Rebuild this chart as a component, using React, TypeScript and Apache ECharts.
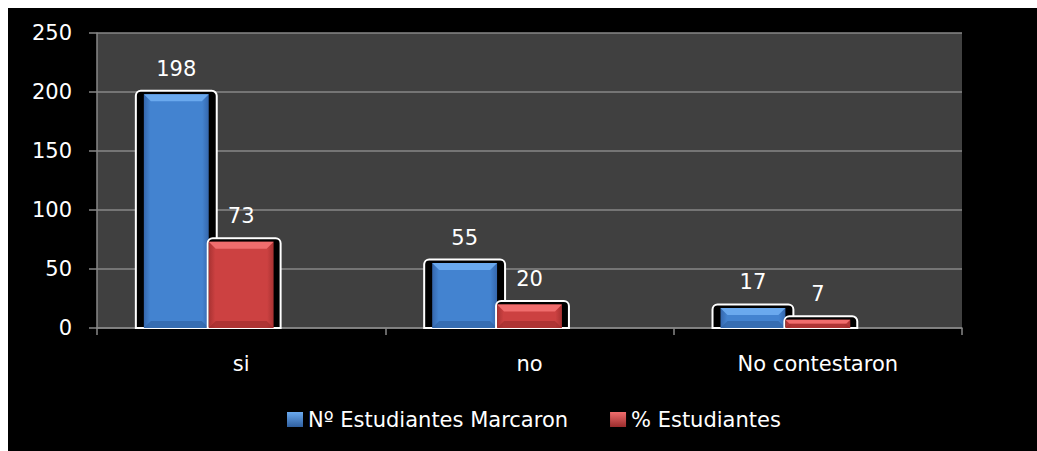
import React, { useEffect, useRef } from "react";
import * as echarts from "echarts";

const categories = ["si", "no", "No contestaron"];
const seriesNames = ["Nº Estudiantes Marcaron", "% Estudiantes"];
const marcaron = [198, 55, 17];
const porcentaje = [73, 20, 7];
const yTicks = { min: 0, max: 250, interval: 50 };

const FONT = '"DejaVu Sans", sans-serif';
const FS = 21;
const GRIDC = "#878787";

const palettes = [
  { edge: "#3567ad", body: "#4383d0", light: "#6aa9ee", dark: "#2f5f9f", fl: 8, fr: 8 },
  { edge: "#a83232", body: "#cc4141", light: "#f06d6d", dark: "#9a2c2c", fl: 1, fr: 7 },
];

function makeRender(sIdx: number) {
  const p = palettes[sIdx];
  return (params: any, api: any) => {
    const ci = api.value(0);
    const v = api.value(1);
    const top = api.coord([ci, v]);
    const base = api.coord([ci, 0]);
    const catW = api.size([1, 0])[0];
    const bw = catW * 0.225;
    const x0 = top[0] + (sIdx - 1.5) * bw;
    const x1 = x0 + bw;
    const yT = top[1];
    const yB = base[1];
    const h = yB - yT;
    const b = Math.min(7, h / 2);
    return {
      type: "group",
      children: [
        {
          type: "rect",
          shape: { x: x0 - p.fl, y: yT - 3.5, width: bw + p.fl + p.fr, height: h + 3.5, r: [5, 5, 0, 0] },
          style: { fill: "#000", stroke: "#fff", lineWidth: 2 },
        },
        {
          type: "rect",
          shape: { x: x0, y: yT, width: bw, height: h },
          style: {
            fill: new echarts.graphic.LinearGradient(0, 0, 1, 0, [
              { offset: 0, color: p.edge },
              { offset: 0.1, color: p.body },
              { offset: 0.9, color: p.body },
              { offset: 1, color: p.edge },
            ]),
          },
        },
        {
          type: "polygon",
          shape: { points: [[x0, yT], [x1, yT], [x1 - b, yT + b], [x0 + b, yT + b]] },
          style: { fill: p.light },
        },
        {
          type: "polygon",
          shape: { points: [[x0, yB], [x1, yB], [x1 - b, yB - b], [x0 + b, yB - b]] },
          style: { fill: p.dark, opacity: 0.6 },
        },
        {
          type: "text",
          x: (x0 + x1) / 2,
          y: yT - 15,
          style: {
            text: String(v),
            fill: "#fff",
            font: `${FS}px ${FONT}`,
            align: "center",
            verticalAlign: "bottom",
            textAlign: "center",
            textVerticalAlign: "bottom",
          },
        },
      ],
    };
  };
}

export default function App() {
  const ref = useRef<HTMLDivElement>(null);
  useEffect(() => {
    if (!ref.current) return;
    const chart = echarts.init(ref.current, undefined, { renderer: "svg" });
    const seriesData = [marcaron, porcentaje];
    chart.setOption({
      animation: false,
      backgroundColor: "#000",
      textStyle: { fontFamily: FONT },
      grid: {
        left: 89,
        right: 75,
        top: 25,
        bottom: 123,
        show: true,
        backgroundColor: "#404040",
        borderWidth: 0,
      },
      legend: {
        left: 274,
        top: 396,
        itemWidth: 16,
        itemHeight: 15,
        itemGap: 42,
        icon: "rect",
        textStyle: { color: "#fff", fontSize: FS, fontFamily: FONT },
        data: seriesNames.map((n, i) => ({
          name: n,
          itemStyle: {
            color: new echarts.graphic.LinearGradient(0, 0, 0, 1, [
              { offset: 0, color: palettes[i].light },
              { offset: 1, color: palettes[i].dark },
            ]),
          },
        })),
      },
      xAxis: {
        type: "category",
        data: categories,
        boundaryGap: true,
        axisLine: { show: true, lineStyle: { color: GRIDC, width: 1.5 } },
        axisTick: { show: true, length: 7, lineStyle: { color: GRIDC, width: 1.5 } },
        axisLabel: { color: "#fff", fontSize: FS, fontFamily: FONT, margin: 25 },
        splitLine: { show: false },
      },
      yAxis: {
        type: "value",
        min: yTicks.min,
        max: yTicks.max,
        interval: yTicks.interval,
        axisLine: { show: true, lineStyle: { color: GRIDC, width: 1.5 } },
        axisTick: { show: true, length: 8, lineStyle: { color: GRIDC, width: 1.5 } },
        axisLabel: { color: "#fff", fontSize: FS, fontFamily: FONT, margin: 25 },
        splitLine: { show: true, lineStyle: { color: GRIDC, width: 1.5 } },
      },
      series: seriesNames.map((n, i) => ({
        type: "custom",
        name: n,
        itemStyle: { color: palettes[i].body },
        encode: { x: 0, y: 1 },
        renderItem: makeRender(i),
        data: seriesData[i].map((v, ci) => [ci, v]),
      })),
    });
    return () => chart.dispose();
  }, []);
  return (
    <div
      ref={ref}
      style={{ position: "fixed", left: 8, top: 8, width: 1029, height: 443, background: "#000" }}
    />
  );
}
